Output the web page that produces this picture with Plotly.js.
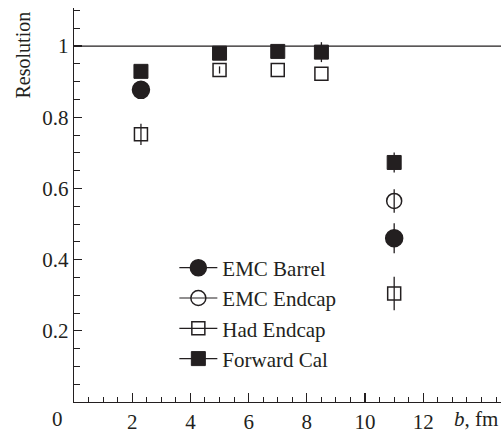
<!DOCTYPE html>
<html>
<head>
<meta charset="utf-8">
<script src="https://cdn.plot.ly/plotly-3.0.1.min.js"></script>
<style>html,body{margin:0;padding:0;background:#fff;}#chart{width:501px;height:432px;}</style>
</head>
<body>
<div id="chart"></div>
<script>
// Impact parameter b (fm) and resolution values
const bEmcBarrel = [2.3, 11.0];
const resEmcBarrel = [0.877, 0.460];
const errEmcBarrel = [0.0, 0.042];

const bEmcEndcap = [11.0];
const resEmcEndcap = [0.565];
const errEmcEndcap = [0.033];

const bHadEndcap = [2.3, 5.0, 7.0, 8.5, 11.0];
const resHadEndcap = [0.752, 0.933, 0.933, 0.922, 0.305];
const errHadEndcap = [0.030, 0.010, 0.0, 0.0, 0.047];

const bForward = [2.3, 5.0, 7.0, 8.5, 11.0];
const resForward = [0.929, 0.980, 0.985, 0.983, 0.673];
const errForward = [0.0, 0.0, 0.0, 0.028, 0.028];

const seriesNames = ["EMC Barrel", "EMC Endcap", "Had Endcap", "Forward Cal"];
const xTickVals = [2, 4, 6, 8, 10, 12];
const xTickText = ["2", "4", "6", "8", "10", "12"];
const yTickVals = [0.2, 0.4, 0.6, 0.8, 1];
const yTickText = ["0.2", "0.4", "0.6", "0.8", "1"];

const ink = "#231f20";
const fam = "Liberation Serif, Times New Roman, serif";
const font = {family: fam, size: 21, color: ink};
const legFont = {family: fam, size: 21, color: ink};

const styles = [
  {symbol: "circle", size: 17, color: ink, line: {color: ink, width: 1.5}},
  {symbol: "circle-open", size: 15, color: ink, line: {color: ink, width: 1.5}},
  {symbol: "square-open", size: 13, color: ink, line: {color: ink, width: 1.5}},
  {symbol: "square", size: 14, color: ink, line: {color: ink, width: 1}}
];
const xs = [bEmcBarrel, bEmcEndcap, bHadEndcap, bForward];
const ys = [resEmcBarrel, resEmcEndcap, resHadEndcap, resForward];
const es = [errEmcBarrel, errEmcEndcap, errHadEndcap, errForward];

const traces = [];
for (let i = 0; i < 4; i++) {
  traces.push({
    x: xs[i], y: ys[i], type: "scatter", mode: "markers",
    marker: styles[i], showlegend: false, cliponaxis: false,
    error_y: {type: "data", array: es[i], visible: true, color: ink, thickness: 1.3, width: 0}
  });
}
for (let i = 0; i < 4; i++) {
  traces.push({
    x: [null], y: [null], type: "scatter", mode: "lines+markers",
    name: seriesNames[i], legendgroup: "g" + i,
    marker: styles[i], line: {color: ink, width: 1.2}
  });
}

const layout = {
  width: 501, height: 432,
  margin: {l: 74, r: 0, t: 8, b: 30},
  paper_bgcolor: "#fff", plot_bgcolor: "#fff",
  font: font,
  showlegend: true,
  legend: {x: 0.235, y: 0.392, xanchor: "left", yanchor: "top", bgcolor: "rgba(0,0,0,0)",
           font: legFont, tracegroupgap: 0, itemwidth: 38},
  xaxis: {
    range: [0, 14.67], showgrid: false, zeroline: false,
    showline: true, linecolor: ink, linewidth: 1.3,
    ticks: "inside", ticklen: 9, tickwidth: 1.2, tickcolor: ink,
    tickvals: xTickVals, ticktext: xTickText, tickfont: font,
    minor: {dtick: 0.5, tick0: 0, ticks: "inside", ticklen: 5, tickwidth: 1, tickcolor: ink, showgrid: false}
  },
  yaxis: {
    range: [0, 1.107], showgrid: false, zeroline: false,
    showline: true, linecolor: ink, linewidth: 1.3,
    ticks: "inside", ticklen: 8, tickwidth: 1.2, tickcolor: ink,
    tickvals: yTickVals, ticktext: yTickText, tickfont: font,
    minor: {dtick: 0.05, tick0: 0, ticks: "inside", ticklen: 6, tickwidth: 1, tickcolor: ink, showgrid: false}
  },
  shapes: [
    {type: "line", xref: "paper", x0: 0, x1: 1, yref: "y", y0: 1, y1: 1, line: {color: ink, width: 1.3}}
  ],
  annotations: [
    {text: "Resolution", xref: "paper", yref: "paper", x: -0.119, y: 0.88, textangle: -90,
     showarrow: false, xanchor: "center", yanchor: "middle", font: {family: fam, size: 20, color: ink}},
    {text: "0", xref: "paper", yref: "paper", x: -0.038, y: -0.042, showarrow: false,
     xanchor: "center", yanchor: "middle", font: font},
    {text: "<i>b</i>, fm", xref: "paper", yref: "paper", x: 0.997, y: -0.042, showarrow: false,
     xanchor: "right", yanchor: "middle", font: font}
  ]
};

Plotly.newPlot("chart", traces, layout, {displayModeBar: false, staticPlot: true});
</script>
</body>
</html>
